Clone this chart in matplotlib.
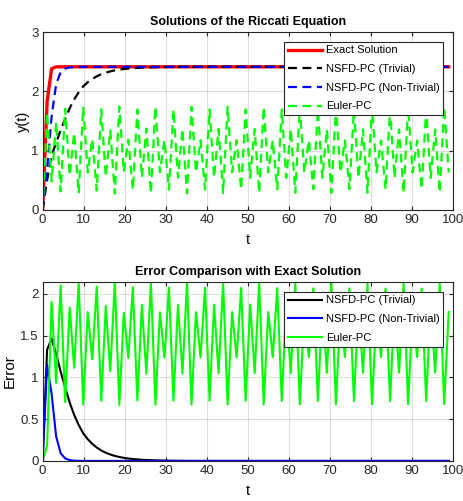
import numpy as np
import matplotlib
matplotlib.use('Agg')
import matplotlib.pyplot as plt

plt.rcParams['font.family'] = ['Liberation Sans', 'DejaVu Sans']

# time grid (step 1.1, 0 .. 99)
t = np.linspace(0, 99, 91)

# exact solution, sampled on the same grid
exact = [
    0.000, 1.831, 2.382, 2.413, 2.414, 2.414, 2.414, 2.414, 2.414, 2.414,
    2.414, 2.414, 2.414, 2.414, 2.414, 2.414, 2.414, 2.414, 2.414, 2.414,
    2.414, 2.414, 2.414, 2.414, 2.414, 2.414, 2.414, 2.414, 2.414, 2.414,
    2.414, 2.414, 2.414, 2.414, 2.414, 2.414, 2.414, 2.414, 2.414, 2.414,
    2.414, 2.414, 2.414, 2.414, 2.414, 2.414, 2.414, 2.414, 2.414, 2.414,
    2.414, 2.414, 2.414, 2.414, 2.414, 2.414, 2.414, 2.414, 2.414, 2.414,
    2.414, 2.414, 2.414, 2.414, 2.414, 2.414, 2.414, 2.414, 2.414, 2.414,
    2.414, 2.414, 2.414, 2.414, 2.414, 2.414, 2.414, 2.414, 2.414, 2.414,
    2.414, 2.414, 2.414, 2.414, 2.414, 2.414, 2.414, 2.414, 2.414, 2.414,
    2.414,
]

nsfd_trivial = [
    0.000, 0.500, 0.920, 1.133, 1.344, 1.534, 1.714, 1.864, 1.984, 2.084,
    2.154, 2.209, 2.254, 2.289, 2.316, 2.337, 2.354, 2.367, 2.377, 2.385,
    2.391, 2.396, 2.400, 2.403, 2.405, 2.407, 2.409, 2.410, 2.411, 2.412,
    2.413, 2.413, 2.414, 2.414, 2.414, 2.414, 2.414, 2.414, 2.414, 2.414,
    2.414, 2.414, 2.414, 2.414, 2.414, 2.414, 2.414, 2.414, 2.414, 2.414,
    2.414, 2.414, 2.414, 2.414, 2.414, 2.414, 2.414, 2.414, 2.414, 2.414,
    2.414, 2.414, 2.414, 2.414, 2.414, 2.414, 2.414, 2.414, 2.414, 2.414,
    2.414, 2.414, 2.414, 2.414, 2.414, 2.414, 2.414, 2.414, 2.414, 2.414,
    2.414, 2.414, 2.414, 2.414, 2.414, 2.414, 2.414, 2.414, 2.414, 2.414,
    2.414,
]

nsfd_nontrivial = [
    0.000, 0.680, 1.580, 2.120, 2.322, 2.384, 2.404, 2.411, 2.413, 2.414,
    2.414, 2.414, 2.414, 2.414, 2.414, 2.414, 2.414, 2.414, 2.414, 2.414,
    2.414, 2.414, 2.414, 2.414, 2.414, 2.414, 2.414, 2.414, 2.414, 2.414,
    2.414, 2.414, 2.414, 2.414, 2.414, 2.414, 2.414, 2.414, 2.414, 2.414,
    2.414, 2.414, 2.414, 2.414, 2.414, 2.414, 2.414, 2.414, 2.414, 2.414,
    2.414, 2.414, 2.414, 2.414, 2.414, 2.414, 2.414, 2.414, 2.414, 2.414,
    2.414, 2.414, 2.414, 2.414, 2.414, 2.414, 2.414, 2.414, 2.414, 2.414,
    2.414, 2.414, 2.414, 2.414, 2.414, 2.414, 2.414, 2.414, 2.414, 2.414,
    2.414, 2.414, 2.414, 2.414, 2.414, 2.414, 2.414, 2.414, 2.414, 2.414,
    2.414,
]

euler_pc = [
    0.000, 1.645, 0.481, 1.479, 0.314, 1.709, 0.580, 1.300, 0.280, 1.740,
    0.633, 1.198, 0.327, 1.696, 0.559, 1.340, 0.274, 1.744, 0.641, 1.183,
    0.337, 1.690, 0.548, 1.372, 0.277, 1.742, 0.636, 1.178, 0.340, 1.692,
    0.546, 1.368, 0.280, 1.740, 0.635, 1.176, 0.343, 1.693, 0.544, 1.365,
    0.283, 1.739, 0.634, 1.175, 0.345, 1.694, 0.543, 1.363, 0.285, 1.738,
    0.633, 1.174, 0.347, 1.695, 0.542, 1.362, 0.287, 1.737, 0.633, 1.173,
    0.349, 1.696, 0.541, 1.360, 0.289, 1.736, 0.632, 1.172, 0.350, 1.697,
    0.540, 1.359, 0.290, 1.735, 0.632, 1.171, 0.351, 1.698, 0.539, 1.358,
    0.291, 1.735, 0.631, 1.170, 0.352, 1.698, 0.538, 1.357, 0.292, 1.734,
    0.631,
]

labels = ['NSFD-PC (Trivial)', 'NSFD-PC (Non-Trivial)', 'Euler-PC']
colors = ['black', 'blue', '#00ff00']

exact = np.array(exact)
series = [np.array(nsfd_trivial), np.array(nsfd_nontrivial), np.array(euler_pc)]
errors = [np.abs(exact - s) for s in series]

dash = (0, (4, 2.5))
edge = '#262626'


def style_axes(ax):
    ax.grid(True, color='#262626', alpha=0.15, linewidth=0.8)
    ax.set_axisbelow(True)
    ax.tick_params(direction='in', top=True, right=True, length=3,
                   labelsize=9.5, colors=edge, pad=3)
    for sp in ax.spines.values():
        sp.set_color(edge)
        sp.set_linewidth(0.8)
    ax.set_xlim(0, 100)
    ax.set_xticks(np.arange(0, 101, 10))


def style_legend(ax):
    leg = ax.legend(loc='upper right', fontsize=8, handlelength=3.1,
                    borderpad=0.35, labelspacing=0.78, handletextpad=0.3,
                    fancybox=False, framealpha=1, borderaxespad=0.85)
    leg.get_frame().set_edgecolor(edge)
    leg.get_frame().set_linewidth(0.8)


fig = plt.figure(figsize=(4.63, 5.01), dpi=100)

# top panel: solutions
ax1 = fig.add_axes([0.092, 0.581, 0.886, 0.355])
ax1.plot(t, exact, color='red', linewidth=2.4, label='Exact Solution')
for s, c, lab in zip(series, colors, labels):
    ax1.plot(t, s, color=c, linestyle=dash, linewidth=1.6, label=lab)
style_axes(ax1)
ax1.set_ylim(0, 3)
ax1.set_yticks([0, 1, 2, 3])
ax1.set_title('Solutions of the Riccati Equation', fontsize=9,
              fontweight='bold', pad=5)
ax1.set_xlabel('t', fontsize=10.5, labelpad=5)
ax1.set_ylabel('y(t)', fontsize=10.5, labelpad=1)
style_legend(ax1)

# bottom panel: errors
ax2 = fig.add_axes([0.092, 0.080, 0.886, 0.357])
for e, c, lab in zip(errors, colors, labels):
    ax2.plot(t, e, color=c, linewidth=1.5, label=lab)
style_axes(ax2)
ax2.set_ylim(0, max(e.max() for e in errors))
ax2.set_yticks([0, 0.5, 1, 1.5, 2])
ax2.set_yticklabels(['0', '0.5', '1', '1.5', '2'])
ax2.set_title('Error Comparison with Exact Solution', fontsize=9,
              fontweight='bold', pad=5)
ax2.set_xlabel('t', fontsize=10.5, labelpad=5)
ax2.set_ylabel('Error', fontsize=11, labelpad=2)
style_legend(ax2)

fig.savefig('out.png', dpi=100)
